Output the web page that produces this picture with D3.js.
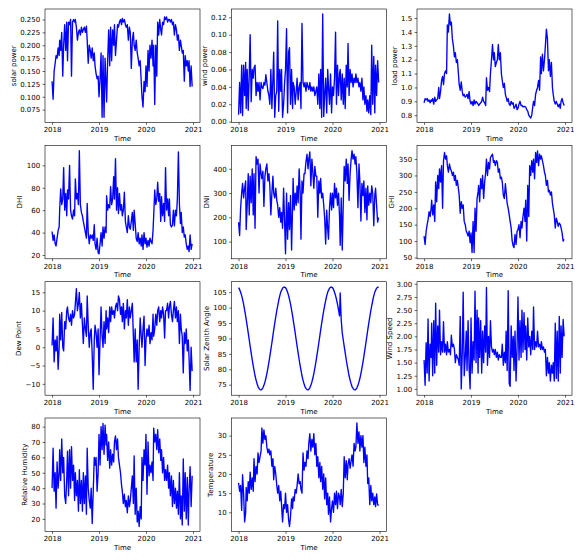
<!DOCTYPE html>
<html>
<head>
<meta charset="utf-8">
<script src="https://cdn.jsdelivr.net/npm/d3@7"></script>
<style>
  body { margin: 0; background: #fff; }
  text { font-family: "DejaVu Sans", sans-serif; }
</style>
</head>
<body>
<div id="chart"></div>
<script>
// four readings per month, Jan 2018 .. Dec 2020
const solarPower = [
  0.13,0.095,0.15,0.165, 0.18,0.175,0.195,0.18, 0.21,0.19,0.225,0.14, 0.20,0.24,0.19,0.245, 0.17,0.245,0.24,0.25, 0.14,0.245,0.25,0.245, 0.25,0.235,0.21,0.225, 0.23,0.22,0.235,0.225, 0.23,0.235,0.225,0.237, 0.21,0.165,0.20,0.19, 0.175,0.195,0.17,0.185, 0.16,0.145,0.135,0.14,
  0.10,0.135,0.185,0.06, 0.18,0.06,0.175,0.12, 0.09,0.17,0.23,0.16, 0.235,0.17,0.23,0.20, 0.24,0.18,0.21,0.24, 0.235,0.245,0.25,0.24, 0.252,0.245,0.25,0.24, 0.235,0.24,0.21,0.235, 0.225,0.155,0.21,0.225, 0.20,0.19,0.21,0.185, 0.175,0.16,0.17,0.13, 0.10,0.08,0.13,0.11,
  0.16,0.12,0.19,0.15, 0.20,0.175,0.21,0.16, 0.20,0.085,0.20,0.14, 0.245,0.22,0.25,0.23, 0.22,0.245,0.24,0.255, 0.25,0.255,0.245,0.25, 0.25,0.245,0.25,0.24, 0.245,0.22,0.24,0.23, 0.21,0.22,0.19,0.21, 0.20,0.185,0.19,0.13, 0.18,0.16,0.17,0.15, 0.17,0.12,0.16,0.12
];
const windPower = [
  0.008,0.045,0.01,0.065, 0.007,0.065,0.03,0.068, 0.015,0.06,0.013,0.055, 0.10,0.023,0.06,0.05, 0.062,0.065,0.03,0.045, 0.035,0.045,0.025,0.045, 0.04,0.038,0.045,0.042, 0.054,0.045,0.035,0.03, 0.02,0.06,0.015,0.05, 0.08,0.005,0.03,0.035, 0.116,0.012,0.06,0.035, 0.06,0.005,0.02,0.045,
  0.06,0.107,0.01,0.08, 0.085,0.02,0.06,0.015, 0.045,0.04,0.02,0.035, 0.05,0.025,0.04,0.045, 0.015,0.113,0.045,0.04, 0.045,0.035,0.045,0.04, 0.037,0.045,0.035,0.04, 0.035,0.04,0.03,0.035, 0.04,0.02,0.055,0.015, 0.06,0.005,0.124,0.006, 0.03,0.05,0.01,0.06, 0.04,0.02,0.055,0.01,
  0.04,0.03,0.05,0.103, 0.02,0.065,0.03,0.055, 0.06,0.025,0.055,0.02, 0.05,0.015,0.065,0.04, 0.09,0.03,0.06,0.045, 0.055,0.04,0.05,0.045, 0.055,0.045,0.05,0.04, 0.045,0.035,0.05,0.025, 0.04,0.02,0.03,0.012, 0.025,0.01,0.03,0.008, 0.088,0.02,0.075,0.01, 0.065,0.03,0.07,0.045
];
const loadPower = [
  0.89,0.92,0.91,0.92, 0.90,0.91,0.89,0.91, 0.90,0.92,0.88,0.93, 0.90,0.91,0.92,1.0, 0.92,0.97,1.05,1.08, 1.02,1.1,1.12,1.1, 1.45,1.4,1.53,1.45, 1.47,1.35,1.3,1.22, 1.25,1.18,1.2,1.1, 1.02,0.98,1.04,0.97, 0.94,0.95,0.93,0.94, 0.95,0.92,0.97,0.9,
  0.88,0.9,0.87,0.91, 0.88,0.90,0.89,0.88, 0.87,0.88,0.89,0.90, 0.93,0.90,0.89,0.87, 1.07,0.98,1.0,0.97, 1.1,1.2,1.31,1.2, 1.25,1.15,1.18,1.2, 1.31,1.2,1.25,1.1, 1.05,1.0,1.03,0.95, 0.93,0.90,0.92,0.88, 0.87,0.90,0.88,0.89, 0.85,0.86,0.88,0.84,
  0.85,0.88,0.90,0.87, 0.87,0.86,0.865,0.86, 0.86,0.84,0.83,0.80, 0.79,0.78,0.80,0.86, 0.90,0.87,0.95,0.98, 1.0,1.05,0.98,1.22, 1.1,1.24,1.12,1.2, 1.3,1.42,1.35,1.12, 1.2,1.08,1.18,1.0, 0.95,0.9,0.88,0.9, 0.88,0.86,0.88,0.85, 0.9,0.92,0.89,0.87
];
const dhi = [
  41,33,38,30, 28,35,42,45, 60,79,65,70, 98,60,75,55, 78,70,100,60, 55,52,60,55, 88,70,75,65, 113,65,58,55, 50,45,40,35, 66,40,30,38, 35,38,33,47, 30,25,35,22,
  21,30,40,28, 45,35,45,40, 73,60,65,62, 81,65,70,90, 70,106,60,80, 57,75,60,65, 55,60,76,50, 45,40,55,45, 43,50,58,42, 60,48,35,32, 40,30,35,28, 38,25,40,30,
  35,27,33,28, 35,32,30,42, 55,78,65,70, 85,68,75,50, 72,55,66,50, 98,60,70,55, 70,47,45,47, 60,46,60,55, 70,112,65,48, 58,40,45,36, 38,30,25,28, 23,38,25,30
];
const dni = [
  180,125,240,300, 340,280,320,350, 150,250,380,210, 370,260,400,210, 380,155,450,420, 440,300,420,380, 360,390,245,370, 400,420,350,380, 330,210,300,370, 300,280,320,270, 250,200,240,180, 220,155,320,180,
  50,300,110,260, 150,290,65,250, 360,230,300,250, 330,260,400,300, 110,350,300,380, 380,430,460,400, 440,470,330,440, 390,320,410,370, 370,200,350,300, 360,280,300,250, 200,90,230,150, 110,240,300,230,
  300,240,340,280, 320,250,300,200, 85,280,65,260, 410,350,440,340, 420,270,380,440, 475,440,460,420, 450,380,240,420, 350,185,340,290, 350,220,320,190, 330,250,300,260, 330,300,165,290, 320,250,180,200
];
const ghi = [
  115,90,130,150, 165,190,175,200, 225,180,210,160, 280,220,300,260, 320,280,330,200, 345,370,350,360, 330,310,335,320, 315,300,310,285, 300,270,285,260, 240,185,220,200, 210,160,150,130, 125,115,130,95,
  125,65,160,65, 200,130,230,250, 270,220,290,260, 300,230,280,310, 350,300,340,320, 355,360,365,340, 345,330,345,340, 310,320,290,295, 280,240,230,275, 250,215,200,180, 160,140,100,85, 80,120,90,130,
  135,150,110,160, 140,175,200,160, 225,100,270,175, 330,300,345,310, 350,290,370,340, 375,330,365,350, 360,345,330,310, 300,270,285,250, 255,240,250,215, 200,180,140,170, 160,145,155,150, 140,125,100,105
];
const dewPoint = [
  0.5,8,-4,2, -1,3,-6,0, 9,2,9.5,0, -1,7,5,10, 11,8,7,9, 6,10,8,9, 12,16,10,12, 15,8,12,6, 1,8,5,3, 14,6,0,4, 5,-2,-11.5,2, 6,4,0,5,
  -7.5,2,11,3, 0,7,1,10, 5,8,4,11, 7,11,9,10, 8,11,12,10, 14,13,9,11, 7,12,5,10, 8,13,6,11, 8,10,12,3, -4,5,-4,2, -11.5,0,8,3, 0,5,8.5,-5,
  2,5,3,6, 1,4,2,9, 3,5,9,6, 10,11,7,10, 8,11,9,2.5, 10,10,12,8, 11,12.5,9,7, 10,12.5,8,11, 7,10,1,9, 5,3,-7,4, 1,5,-1,2, -3,-11.8,0,-6.5
];
const zenithAngle = [
  106.5,105.9,105.0,103.9, 102.7,101.1,99.3,97.3, 96.2,94.1,91.8,89.5, 87.5,85.3,83.1,81.1, 79.7,77.9,76.5,75.3, 74.4,73.8,73.4,73.3, 73.5,74.0,74.8,75.9, 77.0,78.6,80.4,82.3, 84.2,86.4,88.6,90.9, 92.7,94.9,97.0,99.0, 100.6,102.3,103.8,105.0, 105.6,106.3,106.6,106.6,
  106.5,105.9,105.0,103.9, 102.7,101.1,99.3,97.3, 96.2,94.1,91.8,89.5, 87.5,85.3,83.1,81.1, 79.7,77.9,76.5,75.3, 74.4,73.8,73.4,73.3, 73.5,74.0,74.8,75.9, 77.0,78.6,80.4,82.3, 84.2,86.4,88.6,90.9, 92.7,94.9,97.0,99.0, 100.6,102.3,103.8,105.0, 105.6,106.3,106.6,106.6,
  106.5,105.9,105.0,103.9, 102.7,101.1,99.3,97.3, 104.8,96.0,91.8,89.5, 87.5,85.3,83.1,81.1, 79.7,77.9,76.5,75.3, 74.4,73.8,73.4,73.3, 73.5,74.0,74.8,75.9, 77.0,78.6,80.4,82.3, 84.2,86.4,88.6,90.9, 92.7,94.9,97.0,99.0, 100.6,102.3,103.8,105.0, 105.6,106.3,106.6,106.6
];
const windSpeed = [
  1.55,1.07,1.88,1.3, 2.33,1.15,1.85,1.6, 2.25,1.25,2.3,1.3, 2.63,1.45,2.2,1.7, 2.5,1.65,1.9,1.7, 2.28,1.7,1.85,1.65, 1.9,1.7,1.75,1.65, 2.02,1.8,1.85,1.75, 1.5,1.65,1.6,1.55, 1.45,2.38,1.0,1.7, 2.84,1.25,1.6,2.1, 1.35,2.3,1.4,1.0,
  2.35,1.3,1.9,1.55, 2.86,1.5,2.5,1.3, 2.35,1.6,2.3,1.3, 2.1,1.5,2.2,1.7, 2.93,1.45,2.0,1.6, 2.3,1.8,1.7,1.75, 1.65,1.75,1.6,1.7, 1.55,1.65,1.6,1.6, 1.85,1.45,1.7,1.5, 2.1,1.35,2.87,1.1, 1.05,2.2,1.6,2.0, 1.35,2.1,1.15,1.8,
  2.75,1.55,2.3,1.6, 2.5,1.7,2.45,1.75, 2.2,1.55,2.35,1.8, 2.0,1.65,2.1,1.75, 2.56,1.75,1.9,1.8, 2.1,1.8,1.85,1.75, 1.9,1.75,1.8,1.7, 1.75,1.25,1.6,1.3, 1.5,1.15,1.45,1.3, 1.5,1.15,2.25,1.2, 2.1,1.15,2.38,1.3, 2.2,1.6,2.32,2.0
];
const humidity = [
  40,66,38,50, 27,57,40,50, 65,45,72,50, 60,35,30,46, 64,35,65,40, 67,45,55,32, 50,35,45,25, 52,30,45,25, 50,30,48,23, 66,40,32,27, 40,17,38,60, 55,60,38,50,
  75,55,80,65, 82,62,81,68, 75,58,70,53, 65,55,62,57, 70,74,65,72, 60,55,50,42, 38,30,36,28, 32,24,35,28, 32,40,48,30, 61,23,40,18, 25,15,28,20, 60,45,65,55,
  75,36,70,48, 55,50,57,45, 79,70,75,65, 78,63,72,58, 65,50,60,45, 52,45,55,40, 50,35,48,28, 45,30,40,27, 38,23,50,20, 35,16,59,25, 50,20,47,16, 38,54,28,48
];
const temperature = [
  17.7,15.5,17,10.5, 19.8,15,7.5,10, 16.5,13,18,15, 20.5,16,19,15.5, 24,18,22,20, 25.5,23,24.5,26, 32,28,31.5,29, 30,27,25.5,26.5, 25,26,22,24, 18.5,22,20,17, 15,17,13,15.5, 12,7.5,12,11,
  15,10,12,8, 6.3,9,13.5,11, 14,13,16,15, 17,20,17.5,18, 16,15,25.5,21, 23,22,26,24, 28,30.5,26,29, 27,30.5,25,28, 22,24.5,19,23, 18,22,16,20, 13.5,19,12,15, 9.5,14,7.5,11,
  13,10,15,12, 15.5,11,15,14, 12,16,11.5,15, 24.5,19,23.5,18.5, 22.5,24,21.5,23.5, 25,22,28,26, 27,33.3,28,31, 26,30,27,30, 23,27,22,25, 17.5,19,12,17, 13,15,12,14, 11.5,14.8,12,11.8
];

const yearTicks = [2018, 2019, 2020, 2021];
const dates = d3.range(36).flatMap((m) => [1, 9, 17, 25].map((d) => new Date(2018, m, d)));

const panels = [
  { label: "solar power", values: solarPower, domain: [0.05, 0.2704], ticks: [0.075, 0.1, 0.125, 0.15, 0.175, 0.2, 0.225, 0.25], format: ".3f" },
  { label: "wind power", values: windPower, domain: [-0.001, 0.1296], ticks: [0, 0.02, 0.04, 0.06, 0.08, 0.1, 0.12], format: ".2f" },
  { label: "load power", values: loadPower, domain: [0.7475, 1.5655], ticks: [0.8, 0.9, 1.0, 1.1, 1.2, 1.3, 1.4, 1.5], format: ".1f" },
  { label: "DHI", values: dhi, domain: [16.6, 117.9], ticks: [20, 40, 60, 80, 100], format: "d" },
  { label: "DNI", values: dni, domain: [29, 497], ticks: [100, 200, 300, 400], format: "d" },
  { label: "GHI", values: ghi, domain: [46, 392], ticks: [50, 100, 150, 200, 250, 300, 350], format: "d" },
  { label: "Dew Point", values: dewPoint, domain: [-13.1, 17.9], ticks: [-10, -5, 0, 5, 10, 15], format: "d" },
  { label: "Solar Zenith Angle", values: zenithAngle, domain: [71.6, 108.4], ticks: [75, 80, 85, 90, 95, 100, 105], format: "d" },
  { label: "Wind Speed", values: windSpeed, domain: [0.88, 3.04], ticks: [1, 1.25, 1.5, 1.75, 2, 2.25, 2.5, 2.75, 3], format: ".2f" },
  { label: "Relative Humidity", values: humidity, domain: [11.8, 85.6], ticks: [20, 30, 40, 50, 60, 70, 80], format: "d" },
  { label: "Temperature", values: temperature, domain: [5.0, 34.6], ticks: [10, 15, 20, 25, 30], format: "d" },
];

const width = 581;
const height = 560;
const colLeft = [45, 231.5, 417];
const rowTop = [9, 145.3, 281.7, 418];
const panelW = 155;
const panelH = 113.5;
const tickLen = 2.4;
const tickPad = 2.4;

const svg = d3
  .select("#chart")
  .append("svg")
  .attr("width", width)
  .attr("height", height);

panels.forEach((p, i) => {
  const g = svg
    .append("g")
    .attr("transform", `translate(${colLeft[i % 3]},${rowTop[Math.floor(i / 3)]})`);

  const x = d3
    .scaleTime()
    .domain([new Date(2017, 10, 7), new Date(2021, 1, 24)])
    .range([0, panelW]);
  const y = d3.scaleLinear().domain(p.domain).range([panelH, 0]);

  const line = d3
    .line()
    .x((d, j) => x(dates[j]))
    .y((d) => y(d));

  g.append("path")
    .datum(p.values)
    .attr("fill", "none")
    .attr("stroke", "#0000ff")
    .attr("stroke-width", 1.35)
    .attr("stroke-linejoin", "round")
    .attr("d", line);

  const xAxis = g
    .append("g")
    .attr("transform", `translate(0,${panelH})`)
    .call(
      d3
        .axisBottom(x)
        .tickValues(yearTicks.map((yr) => new Date(yr, 0, 1)))
        .tickFormat(d3.timeFormat("%Y"))
        .tickSize(tickLen)
        .tickPadding(tickPad)
    );

  const yAxis = g.append("g").call(
    d3
      .axisLeft(y)
      .tickValues(p.ticks)
      .tickFormat(d3.format(p.format))
      .tickSize(tickLen)
      .tickPadding(tickPad)
  );

  [xAxis, yAxis].forEach((ax) => {
    ax.select(".domain").remove();
    ax.selectAll("line").attr("stroke", "#000").attr("stroke-width", 0.6);
    ax.selectAll("text").attr("fill", "#000").style("font-size", "7px");
  });

  // box around the axes
  g.append("rect")
    .attr("width", panelW)
    .attr("height", panelH)
    .attr("fill", "none")
    .attr("stroke", "#000")
    .attr("stroke-width", 0.6);

  g.append("text")
    .attr("x", panelW / 2)
    .attr("y", panelH + 18.5)
    .attr("text-anchor", "middle")
    .style("font-size", "7px")
    .text("Time");

  const maxW = d3.max(yAxis.selectAll("text").nodes(), (n) => n.getComputedTextLength());
  const lx = -(tickLen + tickPad + maxW + 2.8 + 1.7);
  g.append("text")
    .attr("transform", `translate(${lx},${panelH / 2}) rotate(-90)`)
    .attr("text-anchor", "middle")
    .style("font-size", "7px")
    .text(p.label);
});
</script>
</body>
</html>
